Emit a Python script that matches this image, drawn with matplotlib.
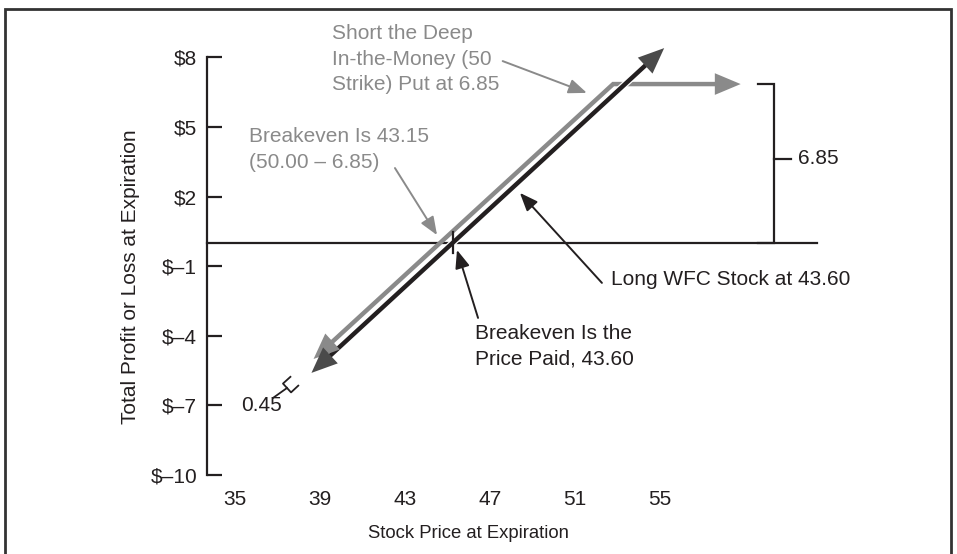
import numpy as np
import matplotlib
matplotlib.use("Agg")
import matplotlib.pyplot as plt
import matplotlib.patheffects as pe
from matplotlib.patches import Rectangle

plt.rcParams['font.family'] = ['Liberation Sans', 'DejaVu Sans']

# DATA ###########################################
x_ticks = [35, 39, 43, 47, 51, 55]
y_ticks = [8, 5, 2, -1, -4, -7, -10]
y_tick_labels = ['$8', '$5', '$2', '$\u20131', '$\u20134', '$\u20137', '$\u201310']

# long stock line (schematic)
stock_x = [38.6, 55.2]
stock_y = [-5.6, 8.4]

# short deep in-the-money put (schematic)
put_x = [38.7, 52.8, 58.8]
put_y = [-5.0, 6.85, 6.85]

premium = 6.85
zero_x = [33.68, 62.4]

# COLOURS ########################################
ink = '#231f20'
grey = '#8a8a8a'
head_dark = '#4a4a4a'
fs = 15
ls = 1.42

fig = plt.figure(figsize=(9.57, 5.54), dpi=100)
ax = fig.add_axes([0.2011, 0.1217, 0.6661, 0.8166])
ax.set_xlim(33, 63)
ax.set_ylim(-10.5, 9)

# frame around the whole figure
fig.patches.append(Rectangle((5 / 957, -0.05), 946 / 957, 1.05 - 9 / 554,
                             transform=fig.transFigure, fill=False,
                             edgecolor='#333333', lw=2))

# axes styling
for s in ['top', 'right', 'bottom']:
    ax.spines[s].set_visible(False)
ax.spines['left'].set_position(('data', zero_x[0]))
ax.spines['left'].set_bounds(-10, 8)
ax.spines['left'].set_linewidth(1.6)
ax.spines['left'].set_color(ink)
ax.set_yticks(y_ticks)
ax.set_yticklabels(y_tick_labels)
ax.tick_params(axis='y', direction='in', length=11, width=1.6, color=ink,
               pad=7, labelsize=fs, labelcolor=ink)
ax.set_xticks(x_ticks)
ax.set_xticklabels([str(v) for v in x_ticks])
ax.tick_params(axis='x', length=0, pad=2.5, labelsize=fs, labelcolor=ink)

fig.text(468 / 957, 1 - 533 / 554, 'Stock Price at Expiration', ha='center',
         va='center', fontsize=13.3, color=ink)
fig.text(130 / 957, 1 - 277 / 554, 'Total Profit or Loss at Expiration',
         ha='center', va='center', rotation=90, fontsize=fs, color=ink)

# zero line
ax.plot(zero_x, [0, 0], color=ink, lw=1.6, zorder=2)


def shorten(xs, ys, d0, d1):
    # pull the end points back along the segment so arrow heads cover them
    xs = np.array(xs, dtype=float)
    ys = np.array(ys, dtype=float)
    v0 = np.array([xs[1] - xs[0], ys[1] - ys[0]])
    v0 = v0 / np.hypot(*v0)
    v1 = np.array([xs[-1] - xs[-2], ys[-1] - ys[-2]])
    v1 = v1 / np.hypot(*v1)
    xs[0] += v0[0] * d0
    ys[0] += v0[1] * d0
    xs[-1] -= v1[0] * d1
    ys[-1] -= v1[1] * d1
    return xs, ys


def head(x0, y0, x1, y1, color):
    ax.annotate('', xy=(x1, y1), xytext=(x0, y0),
                arrowprops=dict(arrowstyle='-|>,head_length=0.62,head_width=0.26',
                                mutation_scale=30, color=color, lw=0,
                                shrinkA=0, shrinkB=0),
                zorder=6, annotation_clip=False)


# put line (grey)
px, py = shorten(put_x, put_y, 0.6, 0.6)
ax.plot(px, py, color=grey, lw=3.2, solid_joinstyle='miter',
        solid_capstyle='butt', zorder=3)
head(put_x[1], put_y[1], put_x[0], put_y[0], grey)
head(put_x[-2], put_y[-2], put_x[-1], put_y[-1], grey)

# stock line (black with white edge)
sx, sy = shorten(stock_x, stock_y, 0.6, 0.6)
ax.plot(sx, sy, color=ink, lw=3.2, solid_capstyle='butt', zorder=4,
        path_effects=[pe.Stroke(linewidth=5.0, foreground='white'), pe.Normal()])
head(stock_x[1], stock_y[1], stock_x[0], stock_y[0], head_dark)
head(stock_x[0], stock_y[0], stock_x[1], stock_y[1], head_dark)

# breakeven tick on zero line
ax.plot([45.26, 45.26], [0.47, -0.43], color=ink, lw=1.6, zorder=5)

# 6.85 bracket
ax.plot([59.6, 60.36, 60.36, 59.6], [premium, premium, 0, 0], color=ink, lw=1.6,
        solid_joinstyle='miter', zorder=2)
ax.plot([60.36, 61.16], [premium / 2 + 0.2, premium / 2 + 0.2], color=ink, lw=1.6)
ax.text(61.49, premium / 2 + 0.2, '6.85', fontsize=fs, color=ink, va='center', ha='left')

# 0.45 marker
ax.plot([36.79, 37.45], [-6.68, -6.25], color=ink, lw=1.3)
ax.plot([37.61, 37.26, 37.64, 37.98], [-5.77, -6.06, -6.44, -6.15], color=ink, lw=1.3)
ax.text(35.28, -7.0, '0.45', fontsize=fs, color=ink, va='center', ha='left')

# annotations
arrow_thin = dict(arrowstyle='-|>,head_length=0.5,head_width=0.2', mutation_scale=22,
                  lw=1.4, shrinkA=0, shrinkB=0)

ax.text(39.56, 7.93, 'Short the Deep\nIn-the-Money (50\nStrike) Put at 6.85',
        fontsize=fs, color=grey, va='center', ha='left', linespacing=ls)
ax.annotate('', xy=(51.56, 6.47), xytext=(47.6, 7.84),
            arrowprops=dict(arrow_thin, color=grey))

ax.text(35.66, 4.03, 'Breakeven Is 43.15\n(50.00 \u2013 6.85)',
        fontsize=fs, color=grey, va='center', ha='left', linespacing=ls)
ax.annotate('', xy=(44.51, 0.34), xytext=(42.53, 3.23),
            arrowprops=dict(arrow_thin, color=grey))

ax.text(52.69, -1.59, 'Long WFC Stock at 43.60', fontsize=fs, color=ink,
        va='center', ha='left')
ax.annotate('', xy=(48.41, 2.16), xytext=(52.27, -1.72),
            arrowprops=dict(arrow_thin, color=ink))

ax.text(46.29, -4.46, 'Breakeven Is the\nPrice Paid, 43.60', fontsize=fs, color=ink,
        va='center', ha='left', linespacing=ls)
ax.annotate('', xy=(45.45, -0.30), xytext=(46.44, -3.23),
            arrowprops=dict(arrow_thin, color=ink))

fig.savefig('out.png', dpi=100)
